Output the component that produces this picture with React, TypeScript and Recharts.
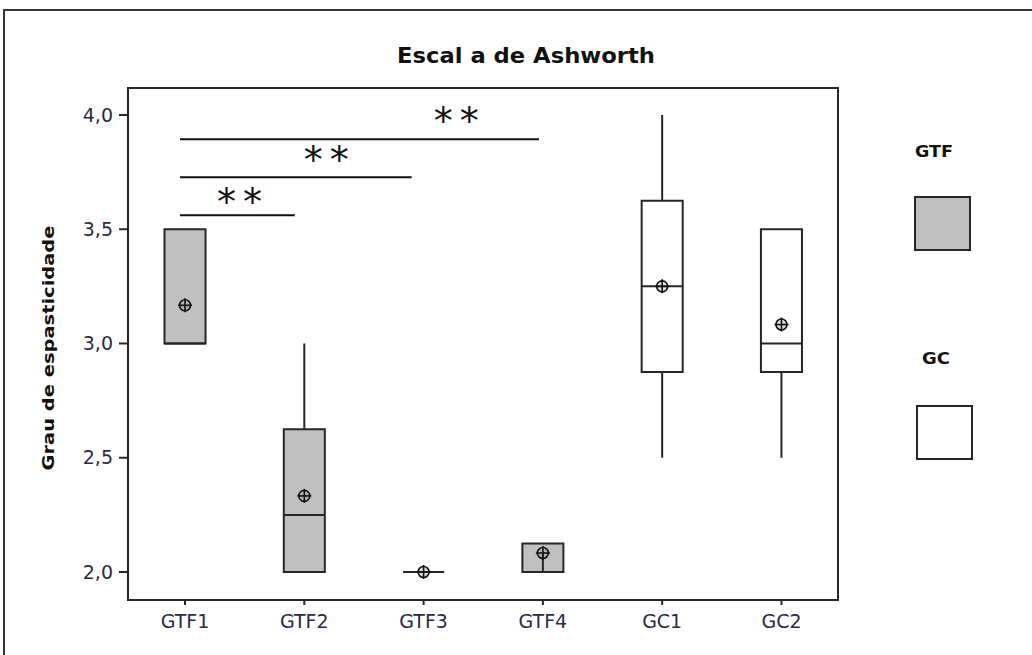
import React from 'react';
import { ComposedChart, XAxis, YAxis, Scatter, ReferenceArea, ReferenceLine } from 'recharts';

// ---- data ----
const categories = ['GTF1', 'GTF2', 'GTF3', 'GTF4', 'GC1', 'GC2'];
const groups = ['GTF', 'GTF', 'GTF', 'GTF', 'GC', 'GC'];
const whiskerLow = [3.0, 2.0, 2.0, 2.0, 2.5, 2.5];
const q1 = [3.0, 2.0, 2.0, 2.0, 2.875, 2.875];
const median = [3.0, 2.25, 2.0, 2.0, 3.25, 3.0];
const q3 = [3.5, 2.625, 2.0, 2.125, 3.625, 3.5];
const whiskerHigh = [3.5, 3.0, 2.0, 2.125, 4.0, 3.5];
const means = [3.167, 2.333, 2.0, 2.083, 3.25, 3.083];
const stemTop: (number | null)[] = [null, null, null, 2.083, null, null];
const yTicks = [2.0, 2.5, 3.0, 3.5, 4.0];
const xTicks = [1, 2, 3, 4, 5, 6];
const sigFrom = [0.958, 0.958, 0.958];
const sigTo = [1.92, 2.9, 3.967];
const sigLevel = [3.561, 3.727, 3.894];
const starX = [1.461, 2.188, 3.277];
const starY = [3.657, 3.844, 4.014];
const starText = ['**', '**', '**'];
const legendGroups = ['GTF', 'GC'];

const xDomain = [0.522, 6.474];
const yDomain = [1.8775, 4.118];
const HALF = 0.172;
const groupFill: Record<string, string> = { GTF: '#c0c0c0', GC: '#ffffff' };
const INK = '#262626';
const TICK = '#2a2a4a';
const FONT = 'DejaVu Sans, Verdana, sans-serif';

const meanData = means.map((m, i) => ({ x: i + 1, y: m }));
const starData = starX.map((x, i) => ({ x, y: starY[i], t: starText[i] }));

const MeanMarker = (props: any) => {
  const { cx, cy } = props;
  if (cx == null || cy == null) return null;
  return (
    <g>
      <circle cx={cx} cy={cy} r={5.5} fill="rgba(160,160,160,0.35)" stroke="#111" strokeWidth={1.6} />
      <line x1={cx - 7} y1={cy} x2={cx + 7} y2={cy} stroke="#111" strokeWidth={1.6} />
      <line x1={cx} y1={cy - 7} x2={cx} y2={cy + 7} stroke="#111" strokeWidth={1.6} />
    </g>
  );
};

const StarLabel = (props: any) => {
  const { cx, cy, payload } = props;
  if (cx == null || cy == null) return null;
  return (
    <text x={cx + 3} y={cy + 22} textAnchor="middle" fontFamily={FONT} fontSize={38} letterSpacing={7} fill="#111">
      {payload.t}
    </text>
  );
};

export default function App() {
  return (
    <div style={{ position: 'absolute', left: 0, top: 0, width: 1032, height: 655, background: '#fff', overflow: 'hidden' }}>
      <ComposedChart width={1032} height={655} margin={{ top: 88, right: 194, bottom: 15, left: 68 }}>
        <XAxis
          type="number"
          dataKey="x"
          domain={xDomain}
          allowDataOverflow
          ticks={xTicks}
          interval={0}
          tickFormatter={(v: number) => categories[Math.round(v) - 1]}
          height={40}
          tickSize={5}
          tickMargin={10}
          axisLine={{ stroke: INK, strokeWidth: 2 }}
          tickLine={{ stroke: INK, strokeWidth: 2 }}
          tick={{ fill: TICK, fontSize: 19, fontFamily: FONT }}
        />
        <YAxis
          type="number"
          dataKey="y"
          domain={yDomain}
          allowDataOverflow
          ticks={yTicks}
          interval={0}
          tickFormatter={(v: number) => v.toFixed(1).replace('.', ',')}
          width={60}
          tickSize={9}
          tickMargin={6}
          axisLine={{ stroke: INK, strokeWidth: 2 }}
          tickLine={{ stroke: INK, strokeWidth: 2 }}
          tick={{ fill: TICK, fontSize: 19, fontFamily: FONT }}
        />
        {/* whiskers */}
        {categories.map((c, i) =>
          whiskerHigh[i] > q3[i] ? (
            <ReferenceLine key={'wh' + c} segment={[{ x: i + 1, y: q3[i] }, { x: i + 1, y: whiskerHigh[i] }]} stroke={INK} strokeWidth={2} />
          ) : null
        )}
        {categories.map((c, i) =>
          whiskerLow[i] < q1[i] ? (
            <ReferenceLine key={'wl' + c} segment={[{ x: i + 1, y: whiskerLow[i] }, { x: i + 1, y: q1[i] }]} stroke={INK} strokeWidth={2} />
          ) : null
        )}
        {/* boxes */}
        {categories.map((c, i) =>
          q3[i] > q1[i] ? (
            <ReferenceArea
              key={'box' + c}
              x1={i + 1 - HALF}
              x2={i + 1 + HALF}
              y1={q1[i]}
              y2={q3[i]}
              fill={groupFill[groups[i]]}
              fillOpacity={1}
              stroke={INK}
              strokeWidth={2}
            />
          ) : null
        )}
        {/* medians */}
        {categories.map((c, i) => (
          <ReferenceLine key={'md' + c} segment={[{ x: i + 1 - HALF, y: median[i] }, { x: i + 1 + HALF, y: median[i] }]} stroke={INK} strokeWidth={2} />
        ))}
        {/* inner stem */}
        {categories.map((c, i) =>
          stemTop[i] != null ? (
            <ReferenceLine key={'st' + c} segment={[{ x: i + 1, y: q1[i] }, { x: i + 1, y: stemTop[i] as number }]} stroke={INK} strokeWidth={2} />
          ) : null
        )}
        {/* significance bars */}
        {sigLevel.map((lv, i) => (
          <ReferenceLine key={'sig' + i} segment={[{ x: sigFrom[i], y: lv }, { x: sigTo[i], y: lv }]} stroke="#111" strokeWidth={2} />
        ))}
        {/* plot frame */}
        <ReferenceArea x1={xDomain[0]} x2={xDomain[1]} y1={yDomain[0]} y2={yDomain[1]} fill="none" fillOpacity={0} stroke={INK} strokeWidth={2} />
        <Scatter data={meanData} shape={<MeanMarker />} isAnimationActive={false} />
        <Scatter data={starData} shape={<StarLabel />} isAnimationActive={false} />
      </ComposedChart>
      <svg width={1032} height={655} style={{ position: 'absolute', left: 0, top: 0, pointerEvents: 'none' }}>
        <rect x={4} y={10} width={1100} height={700} fill="none" stroke="#333" strokeWidth={2} />
        <text x={526} y={63} textAnchor="middle" fontFamily={FONT} fontWeight="bold" fontSize={22} textLength={258} lengthAdjust="spacingAndGlyphs" fill="#111">
          Escal a de Ashworth
        </text>
        <text
          x={0}
          y={0}
          transform="translate(54,348) rotate(-90)"
          textAnchor="middle"
          fontFamily={FONT}
          fontWeight="bold"
          fontSize={16}
          textLength={245}
          lengthAdjust="spacingAndGlyphs"
          fill="#111"
        >
          Grau de espasticidade
        </text>
        {legendGroups.map((g, i) => (
          <g key={g}>
            <text
              x={i === 0 ? 915 : 922}
              y={i === 0 ? 157 : 364}
              fontFamily={FONT}
              fontWeight="bold"
              fontSize={15}
              textLength={i === 0 ? 38 : 28}
              lengthAdjust="spacingAndGlyphs"
              fill="#111"
            >
              {g}
            </text>
            <rect
              x={i === 0 ? 915 : 917}
              y={i === 0 ? 197 : 406}
              width={55}
              height={53}
              fill={groupFill[g]}
              stroke={INK}
              strokeWidth={2}
            />
          </g>
        ))}
      </svg>
    </div>
  );
}
